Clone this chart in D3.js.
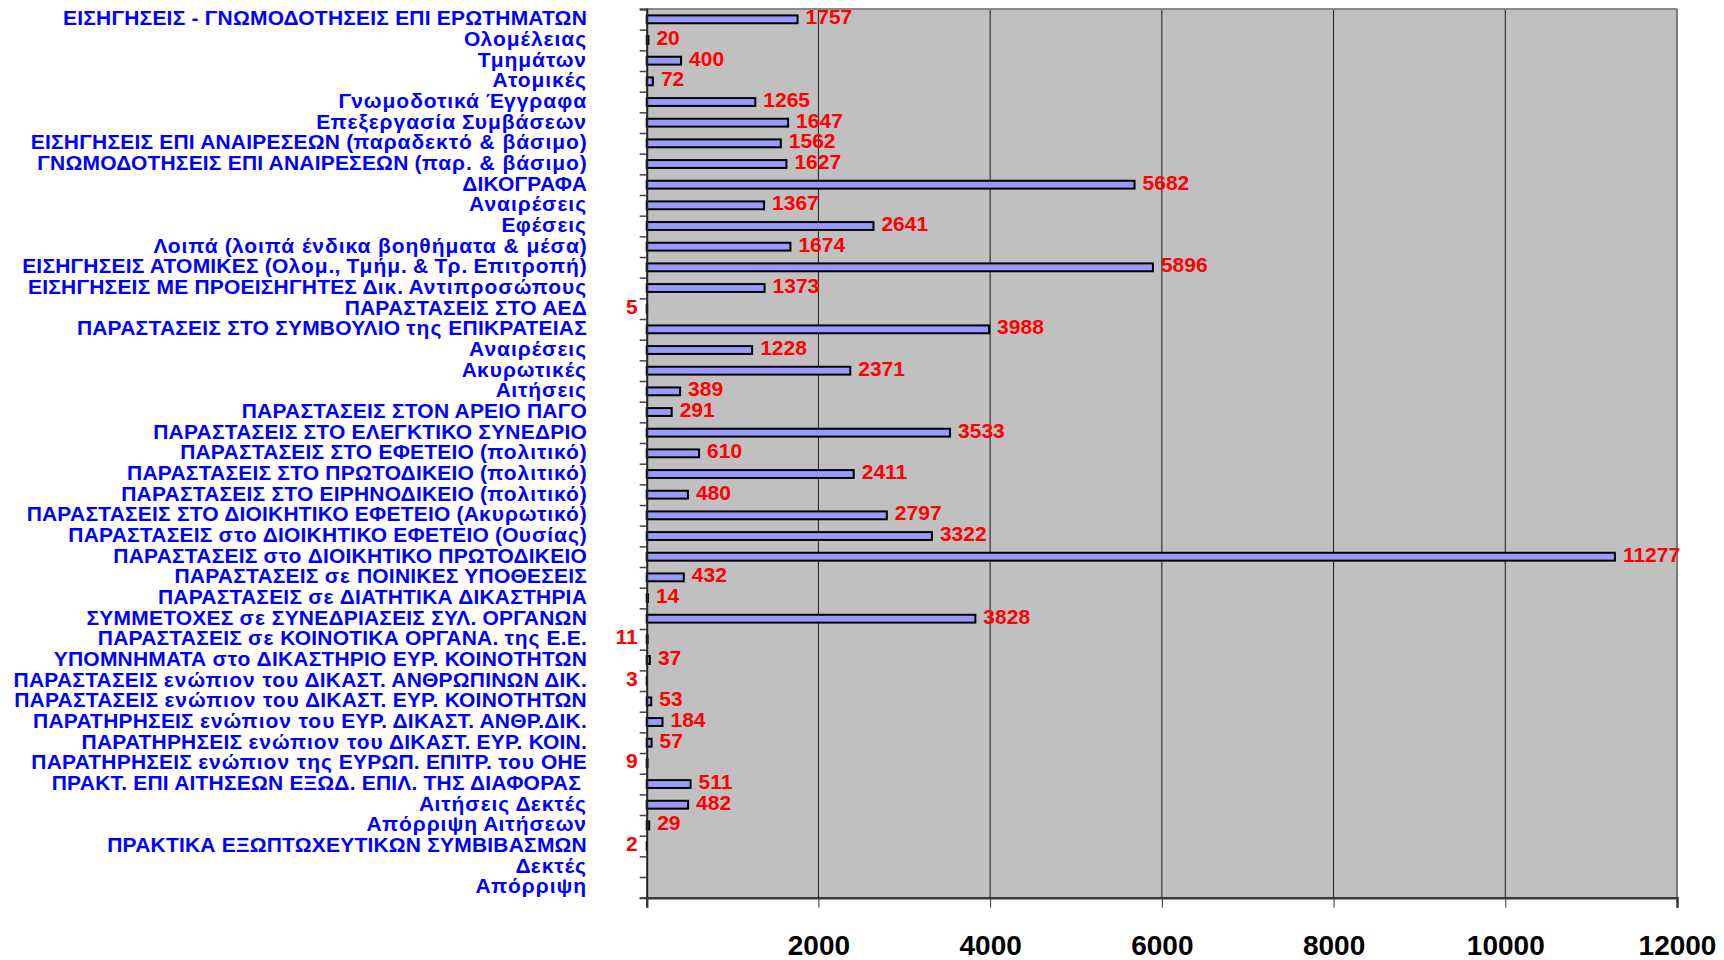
<!DOCTYPE html>
<html>
<head>
<meta charset="utf-8">
<script src="https://cdn.jsdelivr.net/npm/d3@7"></script>
<style>
  html, body { margin: 0; padding: 0; background: #ffffff; }
  svg { display: block; }
  text { font-family: "Liberation Sans", Arial, sans-serif; font-weight: bold; white-space: pre; }
</style>
</head>
<body>
<svg id="chart" width="1724" height="960"></svg>
<script>
const categories = [
  "ΕΙΣΗΓΗΣΕΙΣ - ΓΝΩΜΟΔΟΤΗΣΕΙΣ ΕΠΙ ΕΡΩΤΗΜΑΤΩΝ",
  "Ολομέλειας",
  "Τμημάτων",
  "Ατομικές",
  "Γνωμοδοτικά Έγγραφα",
  "Επεξεργασία Συμβάσεων",
  "ΕΙΣΗΓΗΣΕΙΣ ΕΠΙ ΑΝΑΙΡΕΣΕΩΝ (παραδεκτό & βάσιμο)",
  "ΓΝΩΜΟΔΟΤΗΣΕΙΣ ΕΠΙ ΑΝΑΙΡΕΣΕΩΝ (παρ. & βάσιμο)",
  "ΔΙΚΟΓΡΑΦΑ",
  "Αναιρέσεις",
  "Εφέσεις",
  "Λοιπά (λοιπά ένδικα βοηθήματα & μέσα)",
  "ΕΙΣΗΓΗΣΕΙΣ ΑΤΟΜΙΚΕΣ (Ολομ., Τμήμ. & Τρ. Επιτροπή)",
  "ΕΙΣΗΓΗΣΕΙΣ ΜΕ ΠΡΟΕΙΣΗΓΗΤΕΣ Δικ. Αντιπροσώπους",
  "ΠΑΡΑΣΤΑΣΕΙΣ ΣΤΟ ΑΕΔ",
  "ΠΑΡΑΣΤΑΣΕΙΣ ΣΤΟ ΣΥΜΒΟΥΛΙΟ της ΕΠΙΚΡΑΤΕΙΑΣ",
  "Αναιρέσεις",
  "Ακυρωτικές",
  "Αιτήσεις",
  "ΠΑΡΑΣΤΑΣΕΙΣ ΣΤΟΝ ΑΡΕΙΟ ΠΑΓΟ",
  "ΠΑΡΑΣΤΑΣΕΙΣ ΣΤΟ ΕΛΕΓΚΤΙΚΟ ΣΥΝΕΔΡΙΟ",
  "ΠΑΡΑΣΤΑΣΕΙΣ ΣΤΟ ΕΦΕΤΕΙΟ (πολιτικό)",
  "ΠΑΡΑΣΤΑΣΕΙΣ ΣΤΟ ΠΡΩΤΟΔΙΚΕΙΟ (πολιτικό)",
  "ΠΑΡΑΣΤΑΣΕΙΣ ΣΤΟ ΕΙΡΗΝΟΔΙΚΕΙΟ (πολιτικό)",
  "ΠΑΡΑΣΤΑΣΕΙΣ ΣΤΟ ΔΙΟΙΚΗΤΙΚΟ ΕΦΕΤΕΙΟ (Ακυρωτικό)",
  "ΠΑΡΑΣΤΑΣΕΙΣ στο ΔΙΟΙΚΗΤΙΚΟ ΕΦΕΤΕΙΟ (Ουσίας)",
  "ΠΑΡΑΣΤΑΣΕΙΣ στο ΔΙΟΙΚΗΤΙΚΟ ΠΡΩΤΟΔΙΚΕΙΟ",
  "ΠΑΡΑΣΤΑΣΕΙΣ σε ΠΟΙΝΙΚΕΣ ΥΠΟΘΕΣΕΙΣ",
  "ΠΑΡΑΣΤΑΣΕΙΣ σε ΔΙΑΤΗΤΙΚΑ ΔΙΚΑΣΤΗΡΙΑ",
  "ΣΥΜΜΕΤΟΧΕΣ σε ΣΥΝΕΔΡΙΑΣΕΙΣ ΣΥΛ. ΟΡΓΑΝΩΝ",
  "ΠΑΡΑΣΤΑΣΕΙΣ σε ΚΟΙΝΟΤΙΚΑ ΟΡΓΑΝΑ. της Ε.Ε.",
  "ΥΠΟΜΝΗΜΑΤΑ στο ΔΙΚΑΣΤΗΡΙΟ ΕΥΡ. ΚΟΙΝΟΤΗΤΩΝ",
  "ΠΑΡΑΣΤΑΣΕΙΣ ενώπιον του ΔΙΚΑΣΤ. ΑΝΘΡΩΠΙΝΩΝ ΔΙΚ.",
  "ΠΑΡΑΣΤΑΣΕΙΣ ενώπιον του ΔΙΚΑΣΤ. ΕΥΡ. ΚΟΙΝΟΤΗΤΩΝ",
  "ΠΑΡΑΤΗΡΗΣΕΙΣ ενώπιον του ΕΥΡ. ΔΙΚΑΣΤ. ΑΝΘΡ.ΔΙΚ.",
  "ΠΑΡΑΤΗΡΗΣΕΙΣ ενώπιον του ΔΙΚΑΣΤ. ΕΥΡ. ΚΟΙΝ.",
  "ΠΑΡΑΤΗΡΗΣΕΙΣ ενώπιον της ΕΥΡΩΠ. ΕΠΙΤΡ. του ΟΗΕ",
  "ΠΡΑΚΤ. ΕΠΙ ΑΙΤΗΣΕΩΝ ΕΞΩΔ. ΕΠΙΛ. ΤΗΣ ΔΙΑΦΟΡΑΣ ",
  "Αιτήσεις Δεκτές",
  "Απόρριψη Αιτήσεων",
  "ΠΡΑΚΤΙΚΑ ΕΞΩΠΤΩΧΕΥΤΙΚΩΝ ΣΥΜΒΙΒΑΣΜΩΝ",
  "Δεκτές",
  "Απόρριψη"
];

const values = [
  1757, 20, 400, 72, 1265, 1647, 1562, 1627, 5682, 1367,
  2641, 1674, 5896, 1373, 5, 3988, 1228, 2371, 389, 291,
  3533, 610, 2411, 480, 2797, 3322, 11277, 432, 14, 3828,
  11, 37, 3, 53, 184, 57, 9, 511, 482, 29,
  2, null, null
];

const xTickValues = [0, 2000, 4000, 6000, 8000, 10000, 12000];
const xTickLabels = ["", "2000", "4000", "6000", "8000", "10000", "12000"];

// layout
const plotLeft = 646.7, plotRight = 1677, plotTop = 9, plotBottom = 897.7;

const svg = d3.select("#chart");

const x = d3.scaleLinear().domain([0, 12000]).range([plotLeft, plotRight]);
const y = d3.scaleBand().domain(d3.range(categories.length)).range([plotTop, plotBottom]).padding(0);
const yEdges = d3.scaleLinear().domain([0, categories.length]).range([plotTop, plotBottom]);

// plot background
svg.append("rect")
  .attr("x", plotLeft).attr("y", plotTop)
  .attr("width", plotRight - plotLeft).attr("height", plotBottom - plotTop)
  .attr("fill", "#C0C0C0");

// gridlines
svg.append("g").selectAll("line")
  .data(xTickValues.filter(v => v > 0 && v < 12000))
  .join("line")
  .attr("x1", d => x(d)).attr("x2", d => x(d))
  .attr("y1", plotTop).attr("y2", plotBottom)
  .attr("stroke", "#1a1a1a").attr("stroke-width", 1);

// plot border (top & right)
svg.append("line").attr("x1", plotLeft).attr("x2", plotRight).attr("y1", plotTop).attr("y2", plotTop)
  .attr("stroke", "#8a8a8a").attr("stroke-width", 2);
svg.append("line").attr("x1", plotRight).attr("x2", plotRight).attr("y1", plotTop).attr("y2", plotBottom)
  .attr("stroke", "#7a7a7a").attr("stroke-width", 2);

// bars
const barH = y.bandwidth() * 0.38;
const barData = values.map((v, i) => ({ v, i })).filter(d => d.v !== null);

svg.append("g").selectAll("rect")
  .data(barData.filter(d => d.v > 0))
  .join("rect")
  .attr("x", x(0))
  .attr("y", d => y(d.i) + y.bandwidth() / 2 - barH / 2)
  .attr("width", d => x(d.v) - x(0))
  .attr("height", barH)
  .attr("fill", "#9999FF")
  .attr("stroke", "#000")
  .attr("stroke-width", 2);

// value labels
svg.append("g").selectAll("text")
  .data(barData)
  .join("text")
  .attr("x", d => d.v <= 11 ? x(0) - 9 : x(d.v) + 8)
  .attr("y", d => y(d.i) + y.bandwidth() / 2 - 2.5)
  .attr("dy", "0.36em")
  .attr("text-anchor", d => d.v <= 11 ? "end" : "start")
  .attr("fill", "#FF0000")
  .attr("font-size", 21)
  .text(d => d.v);

// category labels: lowercase runs are spaced a little wider, as in the original rendering
const lowerRe = /([a-zα-ωάέήίόύώϊϋΐΰς]+(?:[ .,&]+[a-zα-ωάέήίόύώϊϋΐΰς]+)*)/;
const catLabels = svg.append("g").selectAll("text")
  .data(categories)
  .join("text")
  .attr("x", 587)
  .attr("y", (d, i) => y(i) + y.bandwidth() / 2 + 6)
  .attr("text-anchor", "end")
  .attr("fill", "#0000FF")
  .attr("font-size", 21)
  .attr("letter-spacing", 0.2);
catLabels.each(function(d) {
  const parts = d.split(lowerRe).filter(p => p.length);
  d3.select(this).selectAll("tspan")
    .data(parts)
    .join("tspan")
    .attr("letter-spacing", p => lowerRe.test(p) && /^[a-zα-ωάέήίόύώϊϋΐΰς]/.test(p) ? 0.95 : 0.2)
    .text(p => p);
});

// left axis (ticks at category boundaries)
const yAxis = svg.append("g")
  .attr("transform", `translate(${plotLeft},0)`)
  .call(d3.axisLeft(yEdges).tickValues(d3.range(categories.length + 1)).tickSize(7).tickFormat(""));
yAxis.select(".domain").attr("stroke", "#222").attr("stroke-width", 2);
yAxis.selectAll(".tick line").attr("stroke", "#444").attr("stroke-width", 1.5);

// bottom axis
const xAxis = svg.append("g")
  .attr("transform", `translate(0,${plotBottom})`)
  .call(d3.axisBottom(x).tickValues(xTickValues).tickSize(10).tickPadding(27)
    .tickFormat((d, i) => xTickLabels[i]));
xAxis.select(".domain").attr("stroke", "#3a3a3a").attr("stroke-width", 2.5);
xAxis.selectAll(".tick line").attr("stroke", "#333").attr("stroke-width", 1);
xAxis.selectAll(".tick text")
  .attr("fill", "#000")
  .attr("font-size", 28)
  .attr("font-family", "\"Liberation Sans\", Arial, sans-serif")
  .attr("font-weight", "bold");
</script>
</body>
</html>
